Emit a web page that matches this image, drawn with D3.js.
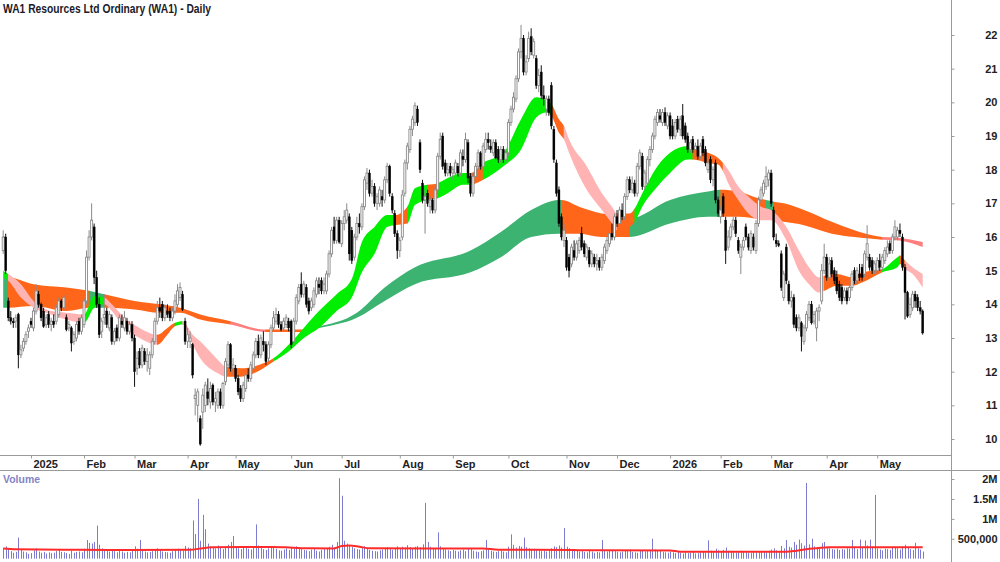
<!DOCTYPE html>
<html>
<head>
<meta charset="utf-8">
<script src="https://cdn.jsdelivr.net/npm/d3@7"></script>
<style>
  body { margin: 0; background: #fff; }
  svg { display: block; }
  text { font-family: "Liberation Sans Narrow", "Arial Narrow", "Liberation Sans", Arial, sans-serif; font-weight: bold; }
</style>
</head>
<body>
<svg id="chart" width="1000" height="562"></svg>
<script>
// ---- data ----
const startDate = '2024-12-13';
const holidays = ['2024-12-25', '2024-12-26', '2025-01-01', '2025-01-27', '2025-04-18', '2025-04-21',
    '2025-04-25', '2025-06-09', '2025-12-25', '2025-12-26', '2026-01-01', '2026-01-26', '2026-04-03', '2026-04-06'];

// daily candles: [open, high, low, close]
const ohlc = [
    [15.6,16.2,15.5,16.0],[16.0,16.1,14.9,15.0],[14.1,14.2,13.5,13.6],[13.6,13.8,13.4,13.5],[13.5,13.6,13.3,13.45],
    [13.5,13.7,13.3,13.6],[13.7,13.75,12.1,12.5],[12.5,12.8,12.4,12.65],[12.7,13.0,12.6,12.9],[12.9,13.2,12.8,13.1],
    [13.2,13.4,13.0,13.3],[13.5,13.6,13.3,13.4],[13.3,13.9,13.2,13.8],[13.8,14.6,13.7,14.4],[14.3,14.4,13.9,14.0],
    [14.0,14.05,13.5,13.6],[13.8,13.9,13.3,13.35],[13.4,13.7,13.3,13.6],[13.7,13.8,13.3,13.4],[13.4,13.6,13.2,13.5],
    [13.5,13.7,13.3,13.4],[13.5,14.0,13.4,13.9],[13.7,14.2,13.6,14.1],[14.1,14.15,13.8,13.9],[13.9,14.3,13.8,14.2],
    [13.6,13.7,13.2,13.25],[13.3,13.5,13.2,13.4],[13.3,13.35,12.6,12.85],[12.9,13.2,12.8,13.1],[13.0,13.5,12.9,13.4],
    [13.5,13.6,13.1,13.2],[13.2,13.7,13.1,13.6],[13.4,14.2,13.3,14.1],[14.1,15.6,14.0,15.4],[15.4,16.2,15.3,16.0],
    [16.0,17.0,15.9,16.5],[16.3,16.4,14.6,14.8],[14.8,15.0,13.9,14.0],[14.0,14.2,13.0,13.1],[13.2,13.6,13.0,13.5],
    [13.6,14.3,13.4,13.7],[13.8,13.9,13.3,13.4],[13.3,13.8,13.2,13.7],[13.6,13.7,12.8,12.9],[12.9,13.3,12.8,13.2],
    [13.3,13.4,12.9,13.0],[13.0,13.7,12.9,13.6],[13.5,13.7,13.3,13.4],[13.3,13.8,13.2,13.6],[13.5,13.6,13.1,13.2],
    [13.2,13.5,13.1,13.4],[13.4,13.5,12.9,13.0],[13.0,13.1,11.55,12.0],[12.1,12.6,11.9,12.4],[12.6,12.7,12.1,12.2],
    [12.2,12.8,12.1,12.7],[12.6,12.7,12.2,12.3],[12.3,12.7,12.0,12.5],[12.1,12.6,11.9,12.5],[12.5,13.0,12.4,12.9],
    [12.9,13.6,12.8,13.5],[13.5,14.1,13.4,13.9],[13.9,14.2,13.6,13.8],[14.0,14.1,13.5,13.6],[13.6,14.0,13.5,13.9],
    [13.8,14.0,13.6,13.7],[13.8,13.9,13.5,13.6],[13.6,13.9,13.5,13.8],[13.8,14.3,13.7,14.1],[14.0,14.6,13.9,14.4],
    [14.2,14.65,14.1,14.5],[14.3,14.4,13.8,13.85],[13.5,13.6,12.8,12.9],[12.9,13.3,12.7,13.1],[12.9,13.2,12.7,13.0],
    [12.8,12.85,11.8,11.9],[11.2,11.5,10.7,11.3],[11.0,11.5,10.5,11.4],[10.6,10.7,9.8,9.85],[10.8,11.5,10.3,11.3],
    [11.0,11.7,10.8,11.6],[11.4,11.8,11.0,11.2],[11.1,11.7,10.9,11.5],[11.6,11.65,11.0,11.1],[11.1,11.4,10.8,11.2],
    [11.0,11.5,10.9,11.4],[11.4,11.5,10.9,11.0],[11.0,11.7,10.9,11.65],[11.7,12.4,11.6,12.3],[12.2,12.9,12.1,12.8],
    [12.8,12.85,12.0,12.1],[12.1,12.4,11.9,12.2],[12.1,12.2,11.7,11.8],[11.8,11.9,11.3,11.4],[11.5,11.6,11.1,11.2],
    [11.2,11.7,11.1,11.6],[11.5,12.0,11.4,11.9],[11.9,12.1,11.7,11.8],[11.8,12.3,11.7,12.2],[12.1,12.6,12.0,12.5],
    [12.5,13.0,12.4,12.9],[12.9,13.1,12.4,12.5],[12.5,13.1,12.4,13.0],[12.9,13.2,12.6,12.8],[12.8,12.9,12.2,12.3],
    [12.4,12.9,12.3,12.8],[12.8,13.4,12.7,13.3],[13.3,13.8,13.2,13.6],[13.5,13.9,13.4,13.7],[13.7,13.8,13.3,13.4],
    [13.4,13.5,13.2,13.25],[13.3,13.6,13.2,13.5],[13.4,13.7,13.3,13.6],[13.5,13.6,13.2,13.3],[13.5,13.55,12.7,12.8],
    [12.9,13.6,12.8,13.5],[13.5,14.3,13.4,14.2],[14.1,14.6,14.0,14.5],[14.6,14.95,14.2,14.3],[14.3,14.7,14.2,14.6],
    [14.5,14.6,13.9,14.0],[14.1,14.2,13.7,13.8],[13.9,14.2,13.8,14.1],[14.0,14.5,13.9,14.4],[14.3,14.8,14.2,14.7],
    [14.6,14.8,14.3,14.5],[14.7,14.8,14.3,14.4],[14.4,14.8,14.3,14.6],[14.4,15.0,14.3,14.9],[14.9,15.6,14.8,15.5],
    [15.5,16.3,15.4,16.2],[16.3,16.6,15.8,15.9],[15.9,16.6,15.8,16.5],[16.5,16.6,15.8,15.85],[15.8,16.5,15.7,16.4],
    [16.4,16.8,16.2,16.6],[16.5,17.0,16.4,16.8],[16.6,16.7,15.3,15.5],[16.2,16.3,15.2,15.3],[15.4,16.1,15.3,16.0],
    [16.0,16.6,15.9,16.4],[16.4,16.7,16.1,16.3],[16.3,17.0,16.2,16.9],[16.9,17.8,16.8,17.7],[17.6,18.05,17.4,17.9],
    [17.9,18.0,17.2,17.3],[17.3,17.7,17.2,17.5],[17.5,17.6,16.9,17.0],[17.0,17.3,16.8,17.2],[17.0,17.5,16.9,17.4],
    [17.2,17.4,16.9,17.1],[17.1,17.8,17.0,17.7],[17.7,18.2,17.6,18.1],[18.1,18.15,17.2,17.3],[17.2,17.3,16.7,16.8],
    [16.7,16.8,16.0,16.1],[16.1,16.2,15.35,15.6],[15.6,16.0,15.4,15.9],[16.0,17.4,15.9,17.25],[17.3,18.3,17.2,18.2],
    [18.2,18.8,18.0,18.7],[18.6,19.3,18.5,19.2],[19.2,19.6,19.0,19.5],[19.4,20.0,19.3,19.9],[19.8,19.9,19.3,19.4],
    [18.8,18.9,17.9,18.0],[17.6,17.7,17.0,17.1],[17.1,17.4,16.1,17.2],[17.3,17.4,16.9,17.0],[16.9,17.2,16.7,17.1],
    [17.1,17.15,16.7,16.8],[16.8,17.5,16.7,17.4],[17.4,18.5,17.3,18.4],[18.4,19.1,18.3,18.9],[19.0,19.1,18.0,18.1],
    [18.2,18.3,17.8,17.9],[17.9,18.2,17.8,18.0],[18.1,18.2,17.8,17.9],[17.9,18.1,17.7,18.0],[17.9,18.3,17.8,18.2],
    [18.1,18.2,17.8,17.9],[17.9,18.6,17.8,18.5],[18.4,18.6,18.1,18.3],[18.3,19.1,18.2,18.9],[18.8,18.9,17.6,17.75],
    [17.8,17.9,17.2,17.3],[17.3,17.9,17.2,17.8],[17.8,18.2,17.7,18.1],[18.1,18.6,18.0,18.5],[18.5,18.55,18.0,18.1],
    [18.1,18.8,18.0,18.7],[18.6,19.1,18.5,18.9],[18.9,19.1,18.6,18.8],[18.7,18.9,18.5,18.6],[18.5,18.9,18.4,18.8],
    [18.8,18.9,18.3,18.35],[18.6,18.7,18.2,18.3],[18.3,18.7,18.2,18.6],[18.6,18.7,18.2,18.3],[18.3,18.6,18.2,18.5],
    [18.5,19.5,18.4,19.4],[19.4,19.9,19.3,19.8],[19.8,20.3,19.7,20.15],[20.1,20.8,20.0,20.7],[20.7,21.6,20.6,21.5],
    [21.5,22.3,21.3,21.9],[21.9,22.0,20.8,20.9],[20.9,21.4,20.8,21.2],[21.3,22.1,21.2,21.9],[21.95,22.2,21.4,21.5],
    [21.4,21.9,21.3,21.8],[21.3,21.4,20.4,20.5],[20.5,21.0,20.3,20.8],[20.9,21.1,20.1,20.2],[20.2,20.5,19.9,20.1],
    [19.8,20.2,19.6,20.1],[20.1,20.2,19.6,19.7],[20.5,20.6,19.2,19.3],[19.2,19.3,18.2,18.3],[18.2,18.3,17.2,17.3],
    [17.4,17.5,16.3,16.4],[16.6,16.7,15.9,16.0],[15.9,16.4,15.7,16.2],[15.9,16.0,15.0,15.1],[15.4,15.5,14.8,15.0],
    [15.2,15.8,15.1,15.7],[15.6,15.9,15.3,15.4],[15.4,15.9,15.3,15.8],[15.6,16.0,15.5,15.9],[16.1,16.3,15.6,15.7],
    [15.8,15.9,15.4,15.5],[15.4,15.8,15.3,15.7],[15.6,15.7,15.1,15.2],[15.2,15.6,15.1,15.5],[15.4,15.5,15.1,15.2],
    [15.2,15.5,15.0,15.3],[15.3,15.4,15.0,15.1],[15.1,15.5,15.0,15.4],[15.3,15.8,15.2,15.7],[15.6,16.0,15.5,15.9],
    [15.8,16.2,15.7,16.1],[16.1,16.4,15.9,16.0],[16.0,16.7,15.9,16.6],[16.6,16.8,16.3,16.4],[16.4,16.9,16.3,16.8],
    [16.8,17.0,16.5,16.6],[16.6,17.3,16.5,17.2],[17.2,17.8,17.1,17.7],[17.7,17.8,17.3,17.4],[17.4,17.8,17.3,17.6],
    [17.6,17.7,17.2,17.3],[17.3,18.2,17.2,18.1],[18.1,18.6,18.0,18.5],[18.4,18.5,17.4,17.5],[17.5,18.0,17.4,17.9],
    [17.6,18.4,17.5,18.3],[18.3,18.7,18.1,18.6],[18.6,19.1,18.5,19.0],[19.0,19.6,18.9,19.5],[19.4,19.8,19.3,19.7],
    [19.6,19.8,19.4,19.5],[19.4,19.8,19.3,19.7],[19.7,19.85,19.3,19.4],[19.3,19.7,19.2,19.6],[19.6,19.7,18.9,19.0],
    [19.3,19.5,18.9,19.0],[19.0,19.5,18.9,19.4],[19.5,19.6,19.1,19.2],[19.2,19.6,19.0,19.5],[19.6,19.95,18.9,19.0],
    [19.3,19.4,18.8,18.9],[19.0,19.1,18.5,18.6],[18.6,18.9,18.5,18.8],[18.9,19.0,18.5,18.6],[18.6,18.8,18.4,18.7],
    [18.7,18.9,18.3,18.4],[18.4,18.8,18.3,18.7],[18.9,19.0,18.4,18.5],[18.6,18.7,18.1,18.2],[18.0,18.3,17.9,18.2],
    [18.3,18.4,17.6,17.7],[17.7,18.1,17.5,18.0],[18.2,18.3,17.0,17.1],[17.1,17.2,16.6,16.7],[16.6,16.9,16.4,16.8],
    [17.2,17.3,16.6,16.7],[16.5,16.6,15.2,15.6],[15.7,16.2,15.6,16.0],[16.0,16.4,15.9,16.3],[16.3,16.6,16.2,16.5],
    [16.5,16.6,16.0,16.1],[15.9,16.0,15.5,15.6],[15.4,15.8,14.9,15.7],[15.7,16.0,15.6,15.9],[16.3,16.4,15.9,16.0],
    [16.0,16.1,15.6,15.7],[15.6,16.2,15.5,16.1],[16.0,16.1,15.6,15.7],[15.6,16.5,15.5,16.4],[16.4,17.2,16.3,17.1],
    [17.1,17.5,17.0,17.4],[17.3,17.7,17.2,17.6],[17.5,18.1,17.4,17.8],[17.7,18.0,17.5,17.9],[17.9,18.0,16.9,17.0],
    [16.8,16.9,15.9,16.0],[15.9,16.1,15.7,15.8],[15.8,15.9,15.7,15.75],[15.5,15.6,14.4,14.5],[14.2,15.0,14.1,14.9],
    [15.7,15.8,14.6,14.7],[14.6,14.7,14.0,14.1],[14.1,14.4,13.9,14.2],[14.2,14.3,13.3,13.4],[13.6,13.7,13.2,13.3],
    [13.3,13.7,13.2,13.6],[13.45,13.5,12.6,13.05],[12.9,13.4,12.8,13.3],[13.3,13.8,13.2,13.7],[13.6,14.1,13.5,14.0],
    [14.0,14.1,13.4,13.45],[13.5,13.8,13.4,13.7],[13.3,13.9,12.9,13.8],[13.8,14.0,13.5,13.9],[14.1,15.2,14.0,15.0],
    [15.0,15.8,14.9,15.4],[15.4,15.5,14.7,14.8],[14.8,15.4,14.7,15.2],[15.3,15.4,14.8,14.9],[15.0,15.1,14.6,14.7],
    [14.8,15.0,14.3,14.4],[14.6,14.7,14.1,14.2],[14.5,14.6,14.0,14.1],[14.2,14.5,14.1,14.4],[14.4,14.5,14.0,14.1],
    [14.2,14.6,14.1,14.5],[14.5,15.0,14.4,14.9],[15.0,15.1,14.6,14.7],[14.7,15.1,14.6,15.0],[14.9,15.2,14.7,14.8],
    [15.1,15.2,14.7,14.8],[14.9,15.6,14.8,15.5],[15.4,16.35,15.3,15.8],[15.4,15.5,15.0,15.1],[15.3,15.4,14.9,15.0],
    [15.0,15.3,14.9,15.2],[15.0,15.4,14.9,15.3],[15.3,15.5,15.0,15.1],[15.1,15.5,15.0,15.4],[15.3,15.7,15.2,15.6],
    [15.5,15.9,15.4,15.7],[15.8,15.9,15.5,15.6],[15.6,16.1,15.5,16.0],[16.0,16.5,15.9,16.3],[16.0,16.3,15.9,16.2],
    [16.2,16.4,16.0,16.1],[16.0,16.1,15.0,15.1],[15.1,15.2,13.55,14.35],[14.35,14.4,13.6,13.65],[13.7,14.2,13.6,14.0],
    [13.9,14.4,13.8,14.3],[14.3,14.4,13.9,14.1],[14.2,14.3,13.8,13.9],[13.9,14.1,13.7,13.8],[13.8,13.85,13.1,13.15]
];

// daily volume, thousands of shares
const volumes = [
    260,310,240,190,150,170,530,220,180,160, 120,140,210,260,180,150,170,130,160,140,
    150,190,230,170,160,140,120,200,150,170, 180,160,250,470,400,380,420,830,350,260,
    240,200,180,210,190,160,230,180,150,170, 160,200,310,250,470,200,180,160,170,190,
    230,260,210,180,170,160,150,190,220,250, 240,200,320,280,260,960,620,1500,450,1100,
    740,380,310,290,260,330,280,240,300,350, 420,570,300,260,240,310,280,250,230,270,
    860,330,270,240,220,260,300,280,250,210, 200,230,260,220,280,250,310,290,240,220,
    210,190,230,250,200,180,220,240,260,300, 350,280,420,2020,1580,450,380,320,290,260,
    240,230,280,310,260,220,200,190,180,210, 230,260,290,240,220,270,310,260,300,280,
    340,290,250,300,320,280,360,1400,420,300, 260,240,660,310,260,230,210,190,220,200,
    180,210,230,190,260,240,200,180,170,190, 210,470,230,200,180,170,190,210,180,160,
    300,610,350,280,320,300,530,290,260,240, 250,220,210,190,200,180,230,260,310,290,
    330,280,770,300,260,230,210,200,180,190, 170,160,200,180,150,170,160,470,190,180,
    200,220,190,170,160,180,210,190,230,170, 160,150,200,220,180,190,210,500,230,200,
    190,170,160,150,180,160,140,170,150,130, 160,140,150,170,130,140,160,180,150,460,
    200,170,250,210,190,220,280,200,170,160, 150,180,200,170,160,150,140,170,160,180,
    190,170,160,200,230,260,210,190,320,260, 470,300,280,420,350,480,390,330,1900,360,
    500,310,280,260,390,420,300,260,240,230, 250,220,240,230,260,250,470,280,240,480,
    270,460,330,480,300,1600,260,230,210,250, 240,220,280,300,260,230,310,350,290,240,
    220,400,260,230,180
];

// red volume average line: [day index, thousands]
const volumeAvg = [
    [0,256],[5,235],[30,225],[50,220],[74,222],[78,255],[83,285],[95,295],[105,292],[112,285],
    [118,262],[131,258],[134,320],[137,332],[141,300],[145,262],[190,256],[196,225],[226,220],[230,210],
    [264,208],[268,176],[310,172],[314,200],[318,240],[322,262],[327,288],[364,290]
];

// short-term moving average ribbon: [day index, top, bottom, colour of the stretch that starts here]
const shortBand = [
    [0,15.0,14.8,'G'],[2,14.9,14.7,'P'],[7,14.6,14.2,'P'],[12,14.1,13.9,'P'],[19,13.8,13.7,'P'],
    [25,13.75,13.55,'P'],[32,13.7,13.45,'G'],[36,14.25,13.9,'G'],[40,14.2,14.0,'P'],[43,14.0,13.8,'P'],
    [48,13.6,13.3,'P'],[54,13.3,13.0,'P'],[61,13.1,12.8,'O'],[65,13.3,13.1,'O'],[68,13.45,13.35,'G'],
    [71,13.5,13.4,'P'],[75,13.1,12.8,'P'],[78,12.9,12.4,'P'],[85,12.35,11.95,'P'],[88,12.15,11.85,'O'],
    [94,12.1,11.85,'O'],[103,12.25,12.1,'O'],[107,12.4,12.3,'G'],[113,12.8,12.6,'G'],[119,13.3,13.0,'G'],
    [125,13.8,13.3,'G'],[132,14.3,13.8,'G'],[138,14.75,14.2,'G'],[142,15.85,14.95,'G'],[147,16.3,15.5,'G'],
    [152,16.65,16.3,'G'],[155,16.65,16.35,'O'],[160,16.9,16.4,'G'],[163,17.45,16.95,'G'],[168,17.55,17.1,'O'],
    [172,17.6,17.15,'G'],[176,17.75,17.3,'G'],[182,17.9,17.55,'G'],[185,17.9,17.55,'O'],[190,18.2,17.7,'G'],
    [198,18.5,18.1,'G'],[205,19.5,18.6,'G'],[211,20.15,19.55,'G'],[215,20.05,19.7,'G'],[217,19.95,19.6,'O'],
    [220,19.5,19.1,'O'],[222,19.3,18.9,'P'],[224,18.9,18.5,'P'],[231,18.1,17.4,'P'],[237,17.3,16.8,'P'],
    [241,16.9,16.4,'P'],[243,16.7,16.2,'O'],[248,16.7,16.3,'O'],[250,16.85,16.45,'G'],[253,17.3,16.9,'G'],
    [259,18.1,17.5,'G'],[264,18.5,17.9,'G'],[271,18.7,18.3,'G'],[273,18.65,18.3,'O'],[279,18.5,18.2,'O'],
    [283,18.35,18.15,'O'],[285,18.2,17.95,'P'],[287,18.0,17.6,'P'],[291,17.5,17.1,'P'],[295,17.2,16.7,'P'],
    [300,16.9,16.5,'P'],[304,16.8,16.5,'P'],[310,16.3,15.9,'P'],[315,15.6,15.0,'P'],[319,15.1,14.6,'P'],
    [323,14.8,14.35,'P'],[325,14.85,14.4,'O'],[330,14.9,14.55,'O'],[336,14.8,14.55,'O'],[340,14.95,14.65,'O'],
    [344,15.0,14.8,'O'],[348,15.05,14.95,'G'],[354,15.4,15.1,'G'],[355,15.45,15.2,'O'],[357,15.3,15.05,'P'],
    [360,15.1,14.9,'P'],[364,14.9,14.5,'P']
];

// long-term moving average ribbon
const longBand = [
    [0,14.8,13.9,'D'],[2,14.8,13.9,'O'],[12,14.6,13.95,'O'],[25,14.5,13.8,'O'],[34,14.4,13.9,'D'],
    [40,14.3,13.9,'O'],[52,14.1,13.85,'O'],[62,14.0,13.75,'O'],[70,13.9,13.75,'O'],[78,13.7,13.55,'O'],
    [90,13.5,13.4,'R'],[104,13.25,13.18,'O'],[118,13.25,13.18,'O'],[124,13.33,13.28,'D'],[140,13.75,13.6,'D'],
    [151,14.5,14.1,'D'],[163,15.1,14.6,'D'],[185,15.6,14.95,'D'],[197,16.15,15.4,'D'],[209,16.8,16.0,'D'],
    [220,17.1,16.1,'D'],[221,17.1,16.1,'O'],[228,16.9,16.1,'O'],[237,16.7,16.0,'O'],[244,16.65,16.0,'O'],
    [248,16.55,16.0,'D'],[264,17.1,16.4,'D'],[279,17.35,16.6,'D'],[284,17.4,16.6,'O'],[291,17.35,16.6,'O'],
    [299,17.15,16.55,'O'],[302,17.1,16.58,'D'],[305,17.05,16.5,'O'],[309,17.0,16.45,'O'],[317,16.8,16.35,'O'],
    [328,16.45,16.1,'O'],[337,16.2,16.0,'O'],[344,16.05,15.95,'O'],[348,16.0,15.92,'R'],[354,15.98,15.9,'R'],
    [364,15.85,15.7,'R']
];

const priceTicks = [10, 11, 12, 13, 14, 15, 16, 17, 18, 19, 20, 21, 22];
const volumeTicks = [500000, 1000000, 1500000, 2000000];
const volumeTickLabels = ['500,000', '1M', '1.5M', '2M'];

const bandColors = { G: '#00ee00', P: '#ffb3b3', O: '#ff661a', D: '#3cb371', R: '#ff7f7f' };

// ---- layout ----
const plotRight = 951;
const priceBottom = 455;
const svg = d3.select('#chart');
const defs = svg.append('defs');

// trading days (weekdays without ASX holidays)
const tradingDays = [];
for (let d = new Date(startDate + 'T00:00:00Z'); tradingDays.length < ohlc.length; d.setUTCDate(d.getUTCDate() + 1)) {
    const iso = d.toISOString().slice(0, 10);
    const wd = d.getUTCDay();
    if (wd === 0 || wd === 6 || holidays.includes(iso)) continue;
    tradingDays.push(new Date(d));
}

const x = d3.scaleLinear().domain([0, ohlc.length - 1]).range([3.2, 922.7]);
const y = d3.scaleLinear().domain([10, 22]).range([439, 35]);
const yVol = d3.scaleLinear().domain([0, 2000000]).range([558.7, 479]);

defs.append('clipPath').attr('id', 'priceClip')
    .append('rect').attr('x', 0).attr('y', 0).attr('width', plotRight).attr('height', priceBottom);

const priceG = svg.append('g').attr('clip-path', 'url(#priceClip)');

/**
 * Draw a ribbon, coloured stretch by stretch
 */
function drawBand(band, id) {
    const area = d3.area()
        .x(d => x(d[0]))
        .y0(d => y(d[2]))
        .y1(d => y(d[1]))
        .curve(d3.curveMonotoneX);
    const pathD = area(band);

    // group consecutive stretches of the same colour
    const runs = [];
    band.forEach((d, k) => {
        const end = k < band.length - 1 ? band[k + 1][0] : d[0];
        const last = runs[runs.length - 1];
        if (last && last.c === d[3]) last.e = end;
        else runs.push({ s: d[0], e: end, c: d[3] });
    });

    runs.forEach((r, k) => {
        const x0 = k === 0 ? 0 : x(r.s) - 0.3;
        const x1 = k === runs.length - 1 ? plotRight : x(r.e) + 0.3;
        defs.append('clipPath').attr('id', `${id}${k}`)
            .append('rect').attr('x', x0).attr('y', 0).attr('width', x1 - x0).attr('height', priceBottom);
        priceG.append('path')
            .attr('d', pathD)
            .attr('fill', bandColors[r.c])
            .attr('clip-path', `url(#${id}${k})`);
    });
}

drawBand(longBand, 'lb');
drawBand(shortBand, 'sb');

// candles
const candles = priceG.append('g').selectAll('g')
    .data(ohlc)
    .join('g');

candles.append('line')
    .attr('x1', (d, i) => x(i))
    .attr('x2', (d, i) => x(i))
    .attr('y1', d => y(d[1]))
    .attr('y2', d => y(d[2]))
    .attr('stroke', d => d[3] >= d[0] ? '#8a8a8a' : '#111')
    .attr('stroke-width', 1);

candles.append('rect')
    .attr('x', (d, i) => x(i) - 1)
    .attr('width', 2)
    .attr('y', d => y(Math.max(d[0], d[3])))
    .attr('height', d => Math.max(1, y(Math.min(d[0], d[3])) - y(Math.max(d[0], d[3]))))
    .attr('fill', d => d[3] >= d[0] ? '#fff' : '#000')
    .attr('stroke', d => d[3] >= d[0] ? '#8a8a8a' : '#000')
    .attr('stroke-width', d => d[3] >= d[0] ? 0.9 : 0.4);

// frame lines
svg.append('line').attr('x1', plotRight + 0.5).attr('x2', plotRight + 0.5).attr('y1', 0).attr('y2', 562)
    .attr('stroke', '#9a9a9a');
svg.append('line').attr('x1', 0).attr('x2', plotRight).attr('y1', priceBottom + 0.5).attr('y2', priceBottom + 0.5)
    .attr('stroke', '#9a9a9a');
svg.append('line').attr('x1', 0).attr('x2', 1000).attr('y1', 470.5).attr('y2', 470.5)
    .attr('stroke', '#9a9a9a');

// price axis
const yAxis = svg.append('g')
    .attr('transform', `translate(${plotRight + 0.5},0)`)
    .call(d3.axisRight(y).tickValues(priceTicks).tickSize(3).tickFormat(d3.format('d')));
yAxis.select('.domain').remove();
yAxis.selectAll('line').attr('stroke', '#9a9a9a');
yAxis.selectAll('text')
    .attr('x', 997 - plotRight).attr('text-anchor', 'end')
    .attr('font-size', 11).attr('fill', '#222');

// month axis
const monthStarts = tradingDays
    .map((d, i) => i)
    .filter(i => i > 0 && tradingDays[i].getUTCMonth() !== tradingDays[i - 1].getUTCMonth());
const xAxis = svg.append('g')
    .attr('transform', `translate(0,${priceBottom + 0.5})`)
    .call(d3.axisBottom(x).tickValues(monthStarts).tickSize(3)
        .tickFormat(i => {
            const d = tradingDays[i];
            return d.getUTCMonth() === 0 ? d3.utcFormat('%Y')(d) : d3.utcFormat('%b')(d);
        }));
xAxis.select('.domain').remove();
xAxis.selectAll('line').attr('stroke', '#9a9a9a');
xAxis.selectAll('text')
    .attr('text-anchor', 'start').attr('dx', 2).attr('y', 5)
    .attr('font-size', 11).attr('fill', '#222');

// volume bars
svg.append('g').selectAll('line')
    .data(volumes)
    .join('line')
    .attr('x1', (d, i) => Math.round(x(i)) + 0.5)
    .attr('x2', (d, i) => Math.round(x(i)) + 0.5)
    .attr('y1', yVol(0))
    .attr('y2', d => yVol(d * 1000))
    .attr('stroke', '#7b7bd0')
    .attr('stroke-width', 1);

// volume average
svg.append('path')
    .datum(volumeAvg)
    .attr('d', d3.line().x(d => x(d[0])).y(d => yVol(d[1] * 1000)).curve(d3.curveMonotoneX))
    .attr('fill', 'none')
    .attr('stroke', '#ff2a2a')
    .attr('stroke-width', 2);

// volume axis
const vAxis = svg.append('g')
    .attr('transform', `translate(${plotRight + 0.5},0)`)
    .call(d3.axisRight(yVol).tickValues(volumeTicks).tickSize(3).tickFormat((d, i) => volumeTickLabels[i]));
vAxis.select('.domain').remove();
vAxis.selectAll('line').attr('stroke', '#9a9a9a');
vAxis.selectAll('text')
    .attr('x', 997 - plotRight).attr('text-anchor', 'end')
    .attr('font-size', 11).attr('fill', '#222');

// labels (the original face is a narrow bold, so squeeze to its measured width)
svg.append('text')
    .attr('x', 3).attr('y', 13)
    .attr('font-size', 12.5).attr('fill', '#1a1a2a')
    .attr('textLength', 208).attr('lengthAdjust', 'spacingAndGlyphs')
    .text('WA1 Resources Ltd Ordinary (WA1) - Daily');

svg.append('text')
    .attr('x', 3).attr('y', 483)
    .attr('font-size', 11).attr('fill', '#8484c4')
    .attr('textLength', 37).attr('lengthAdjust', 'spacingAndGlyphs')
    .text('Volume');
</script>
</body>
</html>
